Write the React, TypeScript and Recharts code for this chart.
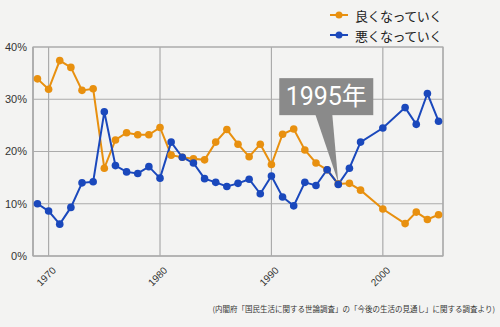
import React from "react";
import {
  CartesianGrid,
  Legend,
  Line,
  LineChart,
  ReferenceArea,
  ReferenceDot,
  XAxis,
  YAxis,
} from "recharts";

// survey years (1999 and 2001 are missing in the source)
const years = [
  1969, 1970, 1971, 1972, 1973, 1974, 1975, 1976, 1977, 1978, 1979, 1980,
  1981, 1982, 1983, 1984, 1985, 1986, 1987, 1988, 1989, 1990, 1991, 1992,
  1993, 1994, 1995, 1996, 1997, 1998, 2000, 2002, 2003, 2004, 2005,
];
// 良くなっていく (%)
const better = [
  33.9, 31.9, 37.4, 36.1, 31.7, 32.0, 16.8, 22.2, 23.6, 23.2, 23.2, 24.6,
  19.3, 18.9, 18.6, 18.4, 21.8, 24.2, 21.4, 19.0, 21.4, 17.5, 23.3, 24.3,
  20.3, 17.8, 16.5, 13.8, 13.9, 12.6, 9.0, 6.2, 8.4, 7.0, 7.9,
];
// 悪くなっていく (%)
const worse = [
  10.0, 8.6, 6.1, 9.3, 14.0, 14.2, 27.6, 17.3, 16.1, 15.8, 17.1, 14.9,
  21.8, 18.9, 17.8, 14.8, 14.1, 13.3, 13.9, 14.7, 11.9, 15.3, 11.3, 9.6,
  14.1, 13.5, 16.5, 13.7, 16.8, 21.8, 24.5, 28.4, 25.2, 31.1, 25.8,
];
const seriesNames = ["良くなっていく", "悪くなっていく"];
const xTicks = [1970, 1980, 1990, 2000];
const yTicks = [0, 10, 20, 30, 40];
const calloutYear = 1996;
const calloutLabel = "1995年";
const sourceNote =
  "(内閣府「国民生活に関する世論調査」の「今後の生活の見通し」に関する調査より)";

const X_MIN = 1968.6;
const X_MAX = 2005.4;
const ORANGE = "#e8900f";
const BLUE = "#1a48bc";
const GRID = "#ababab";

const data = years.map((year, i) => ({
  year,
  better: better[i],
  worse: worse[i],
}));

const calloutIndex = years.indexOf(calloutYear);

const XTick = (props: any) => {
  const { x, y, payload } = props;
  const tx = x + 8;
  const ty = y + 15;
  return (
    <text
      x={tx}
      y={ty}
      transform={`rotate(-45, ${tx}, ${ty})`}
      textAnchor="end"
      fontSize={10}
      fill="#333"
      fontFamily="Liberation Sans, Arial, sans-serif"
    >
      {payload.value}
    </text>
  );
};

// grey speech bubble pointing at the crossing point
const Callout = (props: any) => {
  const { cx, cy } = props;
  if (cx == null || cy == null) return null;
  const top = cy - 106;
  const bottom = cy - 69;
  return (
    <g>
      <rect x={cx - 59} y={top} width={94} height={bottom - top} fill="#8a8a8a" />
      <polygon
        points={`${cx - 23},${bottom - 1} ${cx - 6},${bottom - 1} ${cx},${cy - 2}`}
        fill="#8a8a8a"
      />
      <text
        x={cx - 12}
        y={cy - 79}
        textAnchor="middle"
        fill="#fff"
        fontSize={25}
        fontFamily="Roboto, 'Noto Sans CJK JP', sans-serif"
      >
        {calloutLabel}
      </text>
    </g>
  );
};

const LegendBox = () => (
  <div style={{ fontFamily: "'Noto Sans CJK JP', sans-serif" }}>
    {[ORANGE, BLUE].map((color, i) => (
      <div
        key={i}
        style={{ display: "flex", alignItems: "center", height: 20 }}
      >
        <svg width={24} height={10}>
          <line x1={3} y1={5} x2={21} y2={5} stroke={color} strokeWidth={2} />
          <circle cx={12} cy={5} r={3.5} fill={color} />
        </svg>
        <span
          style={{
            fontSize: 13,
            color: "#222",
            marginLeft: 4,
            letterSpacing: -0.5,
          }}
        >
          {seriesNames[i]}
        </span>
      </div>
    ))}
  </div>
);

export default function App() {
  return (
    <div
      style={{
        position: "relative",
        width: 500,
        height: 327,
        background: "#f3f3f2",
      }}
    >
      <style>{"body{margin:0;}"}</style>
      <LineChart
        width={500}
        height={327}
        data={data}
        margin={{ top: 47, right: 57, left: 0, bottom: 0 }}
      >
        <CartesianGrid stroke={GRID} strokeWidth={1.2} />
        <ReferenceArea
          x1={X_MIN}
          x2={X_MAX}
          y1={0}
          y2={40}
          fill="none"
          stroke={GRID}
          strokeWidth={1.2}
          fillOpacity={0}
        />
        <XAxis
          dataKey="year"
          type="number"
          domain={[X_MIN, X_MAX]}
          ticks={xTicks}
          allowDataOverflow
          height={71}
          tickLine={false}
          tickSize={0}
          tickMargin={0}
          axisLine={{ stroke: GRID, strokeWidth: 1.2 }}
          tick={<XTick />}
          interval={0}
        />
        <YAxis
          domain={[0, 40]}
          ticks={yTicks}
          width={33}
          tickLine={false}
          tickSize={6}
          tickMargin={0}
          axisLine={{ stroke: GRID, strokeWidth: 1.2 }}
          tickFormatter={(v) => `${v}%`}
          tick={{
            fontSize: 11,
            fill: "#333",
            fontFamily: "Liberation Sans, Arial, sans-serif",
          }}
        />
        <Legend
          layout="vertical"
          align="center"
          verticalAlign="middle"
          content={<LegendBox />}
          wrapperStyle={{ left: 327, top: 5, width: 140, height: 42 }}
        />
        <Line
          dataKey="better"
          name={seriesNames[0]}
          stroke={ORANGE}
          strokeWidth={2}
          dot={{ r: 3.8, fill: ORANGE, stroke: "none" }}
          isAnimationActive={false}
        />
        <Line
          dataKey="worse"
          name={seriesNames[1]}
          stroke={BLUE}
          strokeWidth={2}
          dot={{ r: 3.8, fill: BLUE, stroke: "none" }}
          isAnimationActive={false}
        />
        <ReferenceDot
          x={calloutYear}
          y={(better[calloutIndex] + worse[calloutIndex]) / 2}
          shape={<Callout />}
        />
      </LineChart>
      <div
        style={{
          position: "absolute",
          right: 5,
          top: 303,
          fontSize: 7.5,
          color: "#333",
          whiteSpace: "nowrap",
          fontFamily: "'Noto Sans CJK JP', sans-serif",
        }}
      >
        {sourceNote}
      </div>
    </div>
  );
}
